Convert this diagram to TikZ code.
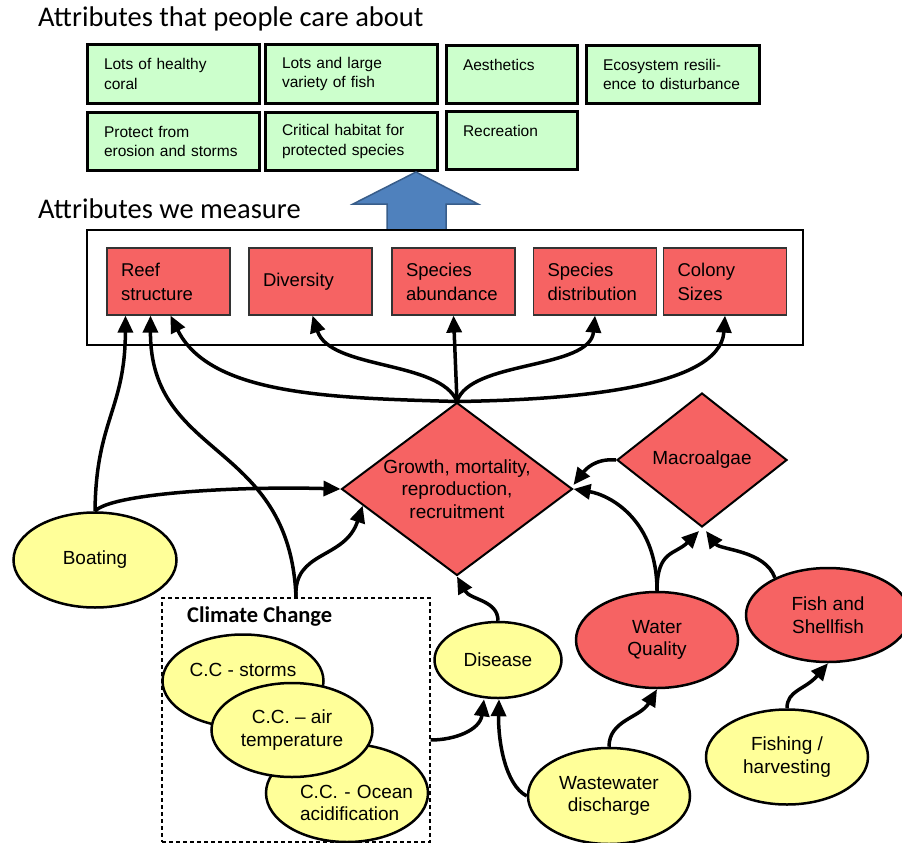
\documentclass[tikz,border=0pt]{standalone}
\usepackage{fontspec}
\setmainfont{Liberation Sans}
\newfontfamily\calibri{Carlito}
\usepackage{tikz}
\usetikzlibrary{shapes.geometric,arrows.meta}
\definecolor{careGreen}{RGB}{204,255,204}
\definecolor{measRed}{RGB}{246,99,99}
\definecolor{driverYellow}{RGB}{255,255,153}
\definecolor{arrowBlue}{RGB}{79,129,189}
\definecolor{arrowBlueDark}{RGB}{56,93,138}

\begin{document}
\begin{tikzpicture}[x=1pt,y=-1pt,
  title/.style={anchor=base west,inner sep=0,font=\calibri\fontsize{28.5}{32}\selectfont},
  care/.style={draw,line width=3pt,fill=careGreen,align=left,inner xsep=17pt,minimum height=58pt,font=\fontsize{15.5}{19.5}\selectfont},
  meas/.style={draw=black!80,line width=1.2pt,fill=measRed,align=left,inner xsep=14pt,text width=95pt,minimum height=67pt,font=\fontsize{18.5}{24}\selectfont},
  proc/.style={diamond,draw,line width=2pt,fill=measRed,inner sep=0pt,align=center,font=\fontsize{19}{22.5}\selectfont},
  driver/.style={ellipse,draw,line width=2.5pt,fill=driverYellow,inner sep=0pt,align=center,font=\fontsize{19}{22.5}\selectfont},
  link/.style={line width=3.5pt,-{Triangle[length=17pt,width=15pt]}}
]
\useasboundingbox (0,0) rectangle (902,843);

% what people care about
\node[title] (careTitle) at (38,27) {Attributes that people care about};
\node[care,text width=138pt] (coral) at (173,74) {Lots of healthy\\coral};
\node[care,text width=138pt] (fish) at (351,74) {Lots and large\\variety of fish};
\node[care,text width=97pt] (aesth) at (511.5,74.5) {Aesthetics\\\mbox{}};
\node[care,text width=139pt] (resil) at (672.5,74.5) {Ecosystem resili-\\ence to disturbance};
\node[care,text width=138pt] (protect) at (173,141.5) {Protect from\\erosion and storms};
\node[care,text width=138pt] (habitat) at (351,141.5) {Critical habitat for\\protected species};
\node[care,text width=97pt] (recr) at (511.5,140.5) {Recreation\\\mbox{}};

% what we measure
\node[title] (measTitle) at (38,218) {Attributes we measure};
\draw[fill=arrowBlue,draw=arrowBlueDark,line width=1.5pt] (387,230) -- (387,204) -- (353,204) -- (416,172) -- (478,204) -- (446,204) -- (446,230) -- cycle;
\node[draw,line width=2.5pt,fill=white,minimum width=716pt,minimum height=115pt,inner sep=0] (measured) at (445,287.5) {};
\node[meas] (reef) at (168.5,281.5) {Reef\\structure};
\node[meas] (divers) at (310.5,281.5) {Diversity};
\node[meas] (abund) at (453.5,281.5) {Species\\abundance};
\node[meas] (distrib) at (595,281.5) {Species\\distribution};
\node[meas] (colony) at (725,281.5) {Colony\\Sizes};

% processes
\node[proc,aspect=1.34,minimum width=231pt,minimum height=173pt] (growth) at (457,489) {Growth, mortality,\\reproduction,\\recruitment};
\node[proc,aspect=1.27,minimum width=170pt,minimum height=134pt] (algae) at (702,460) {Macroalgae};

% drivers
\node[draw,dashed,dash pattern=on 4pt off 3pt,line width=1.2pt,minimum width=268pt,minimum height=244pt,inner sep=0] (climate) at (296,720) {};
\node[anchor=base west,inner sep=0,font=\calibri\bfseries\fontsize{22.5}{26}\selectfont] (ccTitle) at (187,622) {Climate Change};
\node[driver,minimum width=161pt,minimum height=93pt] (ccstorm) at (243,681) {C.C - storms\\\mbox{}};
\node[driver,minimum width=162pt,minimum height=98pt,text width=94pt,align=left,text height=10pt,text depth=0pt] (ccocean) at (347,793) {\mbox{C.C. - Ocean}\\\mbox{acidification}};
\node[driver,minimum width=161pt,minimum height=94pt] (ccair) at (292,730) {C.C. – air\\temperature};
\node[driver,minimum width=163pt,minimum height=95pt] (boating) at (95,560) {Boating};
\node[driver,minimum width=127pt,minimum height=76pt] (disease) at (498,660) {Disease};
\node[driver,fill=measRed,minimum width=162pt,minimum height=96pt] (water) at (657,640) {Water\\Quality};
\node[driver,fill=measRed,minimum width=164pt,minimum height=94pt] (fishery) at (828,615) {Fish and\\Shellfish};
\node[driver,minimum width=162pt,minimum height=96pt] (waste) at (609,796) {Wastewater\\discharge};
\node[driver,minimum width=162pt,minimum height=95pt] (harvest) at (787,757) {Fishing /\\harvesting};

% links
\draw[link] (boating.north) .. controls (96,420) and (125,410) .. ([xshift=-43pt]reef.south);
\draw[link] (boating.north) .. controls (110,494) and (230,486) .. (growth.west);
\draw[link] (climate.north) .. controls (290,440) and (150,460) .. ([xshift=-18pt]reef.south);
\draw[link] (climate.north) .. controls (293,550) and (345,560) .. (growth.190);
\draw[link] (growth.north) .. controls (330,398) and (210,395) .. ([xshift=2pt]reef.south);
\draw[link] (growth.north) .. controls (440,360) and (330,370) .. ([xshift=2pt]divers.south);
\draw[link] (growth.north) -- (abund.south);
\draw[link] (growth.north) .. controls (470,360) and (590,370) .. (distrib.south);
\draw[link] (growth.north) .. controls (560,400) and (720,390) .. (colony.south);
\draw[link] (algae.west) .. controls (595,458) and (585,470) .. ([yshift=4pt]growth.east);
\draw[link] (water.north) .. controls (657,520) and (610,495) .. (growth.east);
\draw[link] (water.north) .. controls (657,550) and (675,555) .. ([xshift=-3pt,yshift=-3pt]algae.south);
\draw[link] (fishery.145) .. controls (765,550) and (720,550) .. ([xshift=4pt,yshift=-3pt]algae.south);
\draw[link] (disease.north) .. controls (498,600) and (470,600) .. (growth.south);
\draw[link] ([yshift=-20pt]climate.east) .. controls (455,740) and (480,730) .. ([xshift=-14pt]disease.south);
\draw[link] (waste.west) .. controls (505,785) and (498,740) .. ([xshift=1pt]disease.south);
\draw[link] (waste.north) .. controls (609,720) and (640,718) .. (water.south);
\draw[link] (harvest.north) .. controls (787,690) and (805,690) .. (fishery.south);
\end{tikzpicture}
\end{document}
